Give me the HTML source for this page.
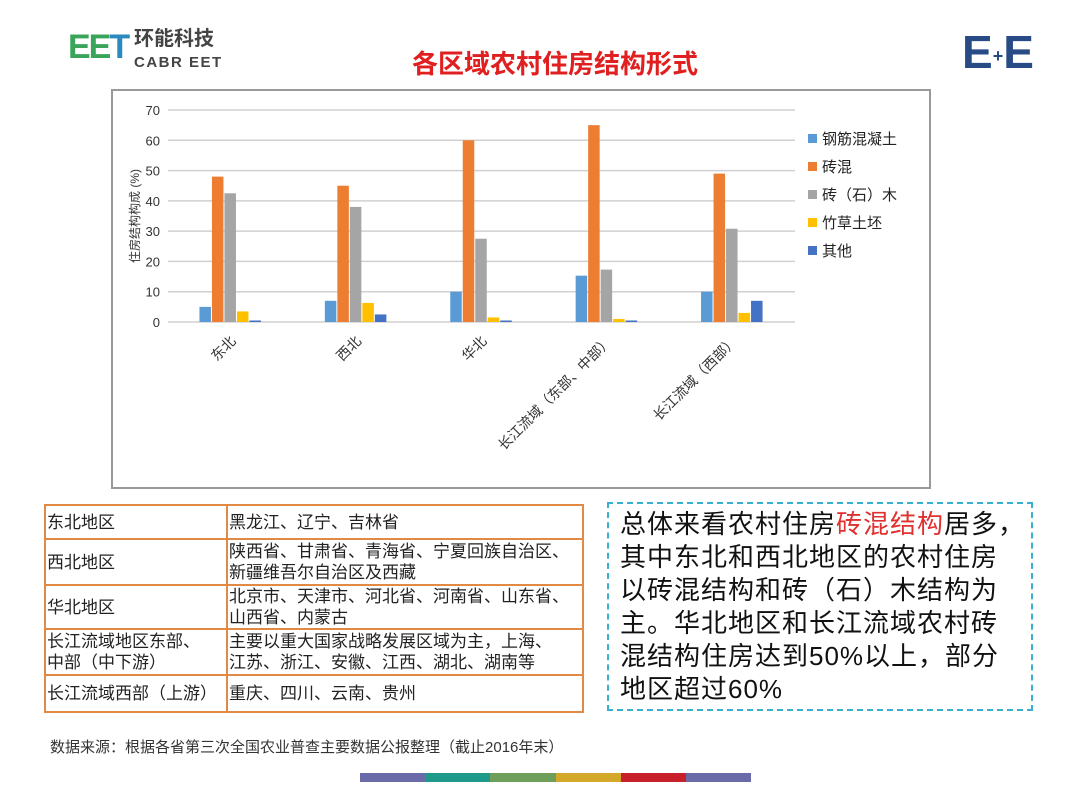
<!DOCTYPE html>
<html><head><meta charset="utf-8">
<style>
body{margin:0;width:1080px;height:810px;background:#fff;position:relative;overflow:hidden;font-family:"Liberation Sans","Noto Sans CJK SC",sans-serif;}
.abs{position:absolute;}
table{border-collapse:collapse;table-layout:fixed;}
td{border:2px solid #e08a45;font-size:17px;color:#222;padding:0 1px;line-height:21px;vertical-align:middle;overflow:hidden;white-space:nowrap;}
</style></head><body>
<div class="abs" style="left:68px;top:30px;font-size:34px;font-weight:bold;color:#2a8ac0;letter-spacing:-2px;line-height:34px;"><span style="color:#3aa55a">EE</span>T</div>
<div class="abs" style="left:134px;top:28px;font-size:20px;font-weight:bold;color:#444;line-height:22px;">环能科技<br><span style="font-size:15px;letter-spacing:1.5px">CABR EET</span></div>
<div class="abs" style="left:962px;top:28px;font-size:46px;font-weight:bold;color:#284a85;line-height:48px;">E<span style="font-size:18px;vertical-align:middle">+</span>E</div>
<div class="abs" style="left:380px;top:44px;width:350px;text-align:center;font-size:26px;font-weight:bold;color:#e02020;">各区域农村住房结构形式</div>
<svg class="abs" style="left:0;top:0" width="1080" height="500" id="chart">
<rect x="112" y="90" width="818" height="398" fill="#fff" stroke="#999" stroke-width="2"/>
</svg>
<table class="abs" style="left:44px;top:504px;width:540px;">
<tr style="height:34px"><td style="width:178px">东北地区</td><td>黑龙江、辽宁、吉林省</td></tr>
<tr style="height:46px"><td>西北地区</td><td>陕西省、甘肃省、青海省、宁夏回族自治区、<br>新疆维吾尔自治区及西藏</td></tr>
<tr style="height:41px"><td>华北地区</td><td>北京市、天津市、河北省、河南省、山东省、<br>山西省、内蒙古</td></tr>
<tr style="height:46px"><td>长江流域地区东部、<br>中部（中下游）</td><td>主要以重大国家战略发展区域为主，上海、<br>江苏、浙江、安徽、江西、湖北、湖南等</td></tr>
<tr style="height:37px"><td>长江流域西部（上游）</td><td>重庆、四川、云南、贵州</td></tr>
</table>
<div class="abs" style="left:607px;top:502px;width:426px;height:209px;border:2px dashed #3ab0d0;box-sizing:border-box;"></div>
<div class="abs" style="left:620px;top:508px;white-space:nowrap;font-size:26px;letter-spacing:1px;line-height:33px;color:#111;">总体来看农村住房<span style="color:#e03030">砖混结构</span>居多，<br>其中东北和西北地区的农村住房<br>以砖混结构和砖（石）木结构为<br>主。华北地区和长江流域农村砖<br>混结构住房达到50%以上，部分<br>地区超过60%</div>
<div class="abs" style="left:50px;top:736px;font-size:15px;color:#333;">数据来源：根据各省第三次全国农业普查主要数据公报整理（截止2016年末）</div>
<div class="abs" style="left:360px;top:773px;width:391px;height:9px;display:flex;">
<div style="flex:1;background:#6a6aa8"></div><div style="flex:1;background:#1f9a8a"></div><div style="flex:1;background:#6e9e5a"></div><div style="flex:1;background:#d4a82a"></div><div style="flex:1;background:#c8202a"></div><div style="flex:1;background:#6a6aa8"></div></div>
<script>
const categories=["东北","西北","华北","长江流域（东部、中部）","长江流域（西部）"];
const seriesNames=["钢筋混凝土","砖混","砖（石）木","竹草土坯","其他"];
const s0=[5,7,10,15.3,10];
const s1=[48,45,60,65,49];
const s2=[42.5,38,27.5,17.3,30.8];
const s3=[3.5,6.3,1.5,1,3];
const s4=[0.5,2.5,0.5,0.5,7];
const yTicks=[0,10,20,30,40,50,60,70];
const colors=["#5b9bd5","#ed7d31","#a5a5a5","#ffc000","#4472c4"];
const svg=document.getElementById('chart');const NS="http://www.w3.org/2000/svg";
const x0=168,x1=795,yb=322,yt=110,ymax=70;
const y=v=>yb-(v/ymax)*(yb-yt);
const cw=(x1-x0)/categories.length;
function mk(t,a){const e=document.createElementNS(NS,t);for(const k in a)e.setAttribute(k,a[k]);svg.appendChild(e);return e;}
yTicks.forEach(t=>{
 const l=mk('line',{x1:x0,x2:x1,y1:y(t),y2:y(t),stroke:'#d0d0d0','stroke-width':1.5});
 
 
 const tx=mk('text',{x:x0-8,y:y(t)+5,'text-anchor':'end','font-size':13,fill:'#333'});tx.textContent=t;
 
 
});
const yt2=mk('text',{x:0,y:0,transform:'translate(139,216) rotate(-90)','text-anchor':'middle','font-size':12,fill:'#333'});yt2.textContent='住房结构构成 (%)';


const series=[s0,s1,s2,s3,s4];const bw=12.5;
categories.forEach((c,i)=>{
 const start=x0+i*cw+(cw-bw*5)/2;
 series.forEach((s,j)=>{
  const r=mk('rect',{x:start+j*bw,y:y(s[i]),width:bw-1,height:yb-y(s[i]),fill:colors[j]});
  
  
 });
 const cx=x0+i*cw+cw/2+6;
 const t=mk('text',{x:0,y:0,transform:`translate(${cx},${yb+20}) rotate(-45)`,'text-anchor':'end','font-size':14,fill:'#333'});t.textContent=c;
 
 
});
seriesNames.forEach((n,j)=>{
 const yy=140+j*28;
 const r=mk('rect',{x:808,y:yy-6,width:9,height:9,fill:colors[j]});
 
 
 const t=mk('text',{x:822,y:yy+4,'font-size':15,fill:'#222'});t.textContent=n;
 
 
});
</script>
</body></html>
